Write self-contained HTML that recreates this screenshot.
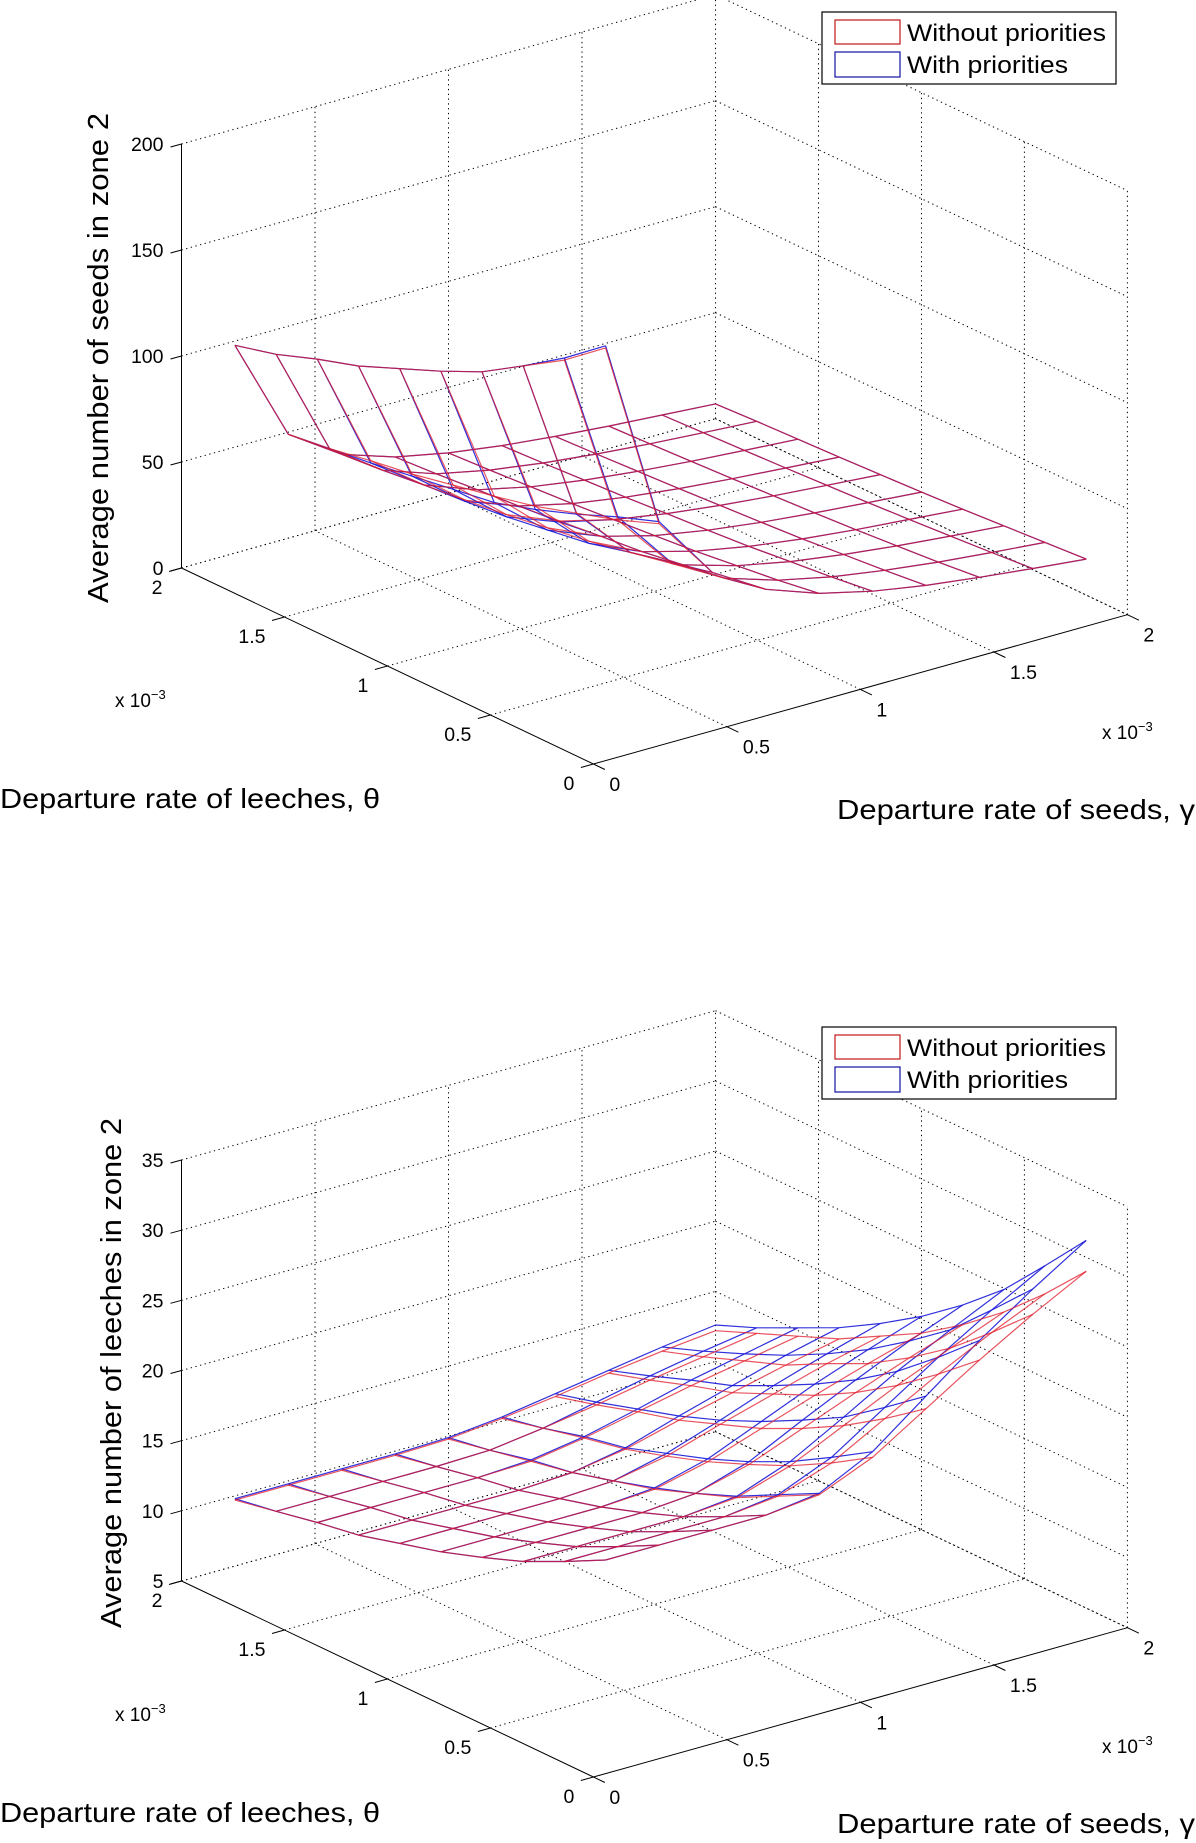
<!DOCTYPE html>
<html><head><meta charset="utf-8"><title>Zone 2 surfaces</title>
<style>
html,body{margin:0;padding:0;background:#fff;}
svg{display:block;font-family:"Liberation Sans",Arial,sans-serif;}
</style></head>
<body>
<svg id="fig" width="1196" height="1843" viewBox="0 0 1196 1843" xmlns="http://www.w3.org/2000/svg">
  <rect x="0" y="0" width="1196" height="1843" fill="#fff"/>
  <g id="chart1"></g>
  <g id="chart2"></g>

  <text x="0" y="808" font-size="28" textLength="380" lengthAdjust="spacingAndGlyphs">Departure rate of leeches, θ</text>
  <text x="837" y="819" font-size="28" textLength="358" lengthAdjust="spacingAndGlyphs">Departure rate of seeds, γ</text>
  <text transform="translate(108,358) rotate(-90)" text-anchor="middle" font-size="29" textLength="490" lengthAdjust="spacingAndGlyphs">Average number of seeds in zone 2</text>
  <text x="115" y="707" font-size="19">x 10<tspan dy="-8" font-size="13">−3</tspan></text>
  <text x="1102" y="739" font-size="19">x 10<tspan dy="-8" font-size="13">−3</tspan></text>
  <g>
    <rect x="822" y="12" width="294" height="72" fill="#fff" stroke="#000" stroke-width="1.2"/>
    <rect x="835" y="20" width="65" height="24" fill="none" stroke="#c01818" stroke-width="1.2"/>
    <rect x="835" y="52" width="65" height="25" fill="none" stroke="#1010a0" stroke-width="1.2"/>
    <text x="907" y="41" font-size="24" textLength="199" lengthAdjust="spacingAndGlyphs">Without priorities</text>
    <text x="907" y="73" font-size="24" textLength="161" lengthAdjust="spacingAndGlyphs">With priorities</text>
  </g>

  <text x="0" y="1822" font-size="28" textLength="380" lengthAdjust="spacingAndGlyphs">Departure rate of leeches, θ</text>
  <text x="837" y="1833" font-size="28" textLength="358" lengthAdjust="spacingAndGlyphs">Departure rate of seeds, γ</text>
  <text transform="translate(121,1373) rotate(-90)" text-anchor="middle" font-size="29" textLength="510" lengthAdjust="spacingAndGlyphs">Average number of leeches in zone 2</text>
  <text x="115" y="1721" font-size="19">x 10<tspan dy="-8" font-size="13">−3</tspan></text>
  <text x="1102" y="1753" font-size="19">x 10<tspan dy="-8" font-size="13">−3</tspan></text>
  <g>
    <rect x="822" y="1027" width="294" height="72" fill="#fff" stroke="#000" stroke-width="1.2"/>
    <rect x="835" y="1035" width="65" height="24" fill="none" stroke="#c01818" stroke-width="1.2"/>
    <rect x="835" y="1067" width="65" height="25" fill="none" stroke="#1010a0" stroke-width="1.2"/>
    <text x="907" y="1056" font-size="24" textLength="199" lengthAdjust="spacingAndGlyphs">Without priorities</text>
    <text x="907" y="1088" font-size="24" textLength="161" lengthAdjust="spacingAndGlyphs">With priorities</text>
  </g>
</svg>
<script>
const thetaValues = [0.2,0.4,0.6,0.8,1.0,1.2,1.4,1.6,1.8,2.0];
const gammaValues = [0.2,0.4,0.6,0.8,1.0,1.2,1.4,1.6,1.8,2.0];
const planeTicks = [0,0.5,1,1.5,2];
const planeTickLabels = ["0","0.5","1","1.5","2"];
const seedsZTicks = [0,50,100,150,200];
const leechesZTicks = [5,10,15,20,25,30,35];

const seedsWithout = [
 [180,90,60,45,36,30,25.7,22.5,19.6,17],
 [165,82.5,55,41,33,27.5,23.6,20.4,17.9,15.6],
 [153,76.5,51,38,30.6,25.5,21.8,18.8,16.4,14.2],
 [141,70.5,47,35,28.2,23.4,19.9,17.2,15,12.8],
 [132,66,44,33,26.3,21.8,18.5,15.9,13.7,11.6],
 [124,62,41,31,24.6,20.4,17.2,14.7,12.6,10.6],
 [116,58,38.6,28.8,22.9,18.9,15.9,13.5,11.5,9.6],
 [110,55,36.5,27.2,21.6,17.7,14.8,12.5,10.6,8.8],
 [103,51.5,34.2,25.5,20.2,16.5,13.7,11.5,9.7,8],
 [98,49,32.5,24.2,19.1,15.5,12.8,10.6,8.8,7]
];
const seedsWith = [
 [181,91,60,45,36,30,25.7,22.5,19.6,17],
 [166,84,55.5,41,33,27.5,23.6,20.4,17.9,15.6],
 [153,76,51,38,30.6,25.5,21.8,18.8,16.4,14.2],
 [141,69,46,35,28.2,23.4,19.9,17.2,15,12.8],
 [132,63,43,33,26.3,21.8,18.5,15.9,13.7,11.6],
 [124,60,40,30.5,24.6,20.4,17.2,14.7,12.6,10.6],
 [116,57,38,28.8,22.9,18.9,15.9,13.5,11.5,9.6],
 [110,54,36.5,27.2,21.6,17.7,14.8,12.5,10.6,8.8],
 [103,51.5,34.2,25.5,20.2,16.5,13.7,11.5,9.7,8],
 [98,49,32.5,24.2,19.1,15.5,12.8,10.6,8.8,7]
];

const leechesWithout = [
 [18,18,18,18,18.4,20,22.4,24.8,27,29],
 [16.5,16.5,16.5,16.5,16.9,18.2,20.3,22.4,24.3,26],
 [15.1,15.1,15.1,15.1,15.4,16.6,18.4,20.2,21.8,23.3],
 [14,14,14,14,14.3,15.3,16.8,18.3,19.7,21],
 [13,13,13,13,13.2,14.1,15.4,16.7,17.9,19],
 [12.2,12.2,12.2,12.2,12.4,13.1,14.3,15.4,16.5,17.4],
 [11.4,11.4,11.4,11.4,11.6,12.2,13.2,14.1,15,15.8],
 [10.9,10.9,10.9,10.9,11,11.6,12.4,13.2,13.9,14.6],
 [10.3,10.3,10.3,10.3,10.4,10.9,11.5,12.2,12.8,13.4],
 [9.7,9.7,9.7,9.7,9.8,10.2,10.7,11.3,11.8,12.2]
];
const leechesWith = [
 [18,18,18,18,18.5,20.4,23.3,26.2,28.8,31.2],
 [16.5,16.5,16.5,16.5,17,18.6,21.1,23.6,25.9,28],
 [15.1,15.1,15.1,15.1,15.5,16.9,19,21.2,23.1,24.9],
 [14,14,14,14,14.3,15.5,17.4,19.2,20.9,22.4],
 [13,13,13,13,13.3,14.3,15.9,17.5,18.9,20.2],
 [12.2,12.2,12.2,12.2,12.4,13.3,14.6,16,17.2,18.3],
 [11.4,11.4,11.4,11.4,11.6,12.3,13.5,14.6,15.7,16.6],
 [10.9,10.9,10.9,10.9,11.1,11.7,12.6,13.6,14.4,15.2],
 [10.3,10.3,10.3,10.3,10.4,10.9,11.7,12.5,13.2,13.8],
 [9.8,9.8,9.8,9.8,9.9,10.3,10.9,11.5,12.1,12.6]
];

const NS = "http://www.w3.org/2000/svg";
function mk(tag, attrs, parent){
  const e = document.createElementNS(NS, tag);
  for (const k in attrs) e.setAttribute(k, attrs[k]);
  parent.appendChild(e);
  return e;
}

function drawChart(g, cfg, zTicks, red, blue, prefix){
  const zmin = zTicks[0], zmax = zTicks[zTicks.length-1];
  function P(th, ga, z){
    return [cfg.fx + th/2*cfg.tvx + ga/2*cfg.gvx,
            cfg.fy + th/2*cfg.tvy + ga/2*cfg.gvy - (z-zmin)/(zmax-zmin)*cfg.zPx];
  }
  const dot = {stroke:"#000", "stroke-width":"1", "stroke-dasharray":"1.3 3.5", fill:"none"};
  function seg(a, b, style, name){
    const l = mk("line", Object.assign({x1:a[0].toFixed(1), y1:a[1].toFixed(1), x2:b[0].toFixed(1), y2:b[1].toFixed(1)}, style), g);
    
    
  }
  zTicks.forEach(z => {
    seg(P(2,0,z), P(2,2,z), dot, prefix+'grid-left-wall-z');
    seg(P(2,2,z), P(0,2,z), dot, prefix+'grid-right-wall-z');
  });
  planeTicks.forEach(v => {
    if (v > 0) seg(P(2,v,zmin), P(2,v,zmax), dot, prefix+'grid-left-wall-gamma');
    if (v < 2) seg(P(v,2,zmin), P(v,2,zmax), dot, prefix+'grid-right-wall-theta');
    if (v > 0) seg(P(v,0,zmin), P(v,2,zmin), dot, prefix+'grid-floor-theta');
    if (v > 0) seg(P(0,v,zmin), P(2,v,zmin), dot, prefix+'grid-floor-gamma');
  });
  const solid = {stroke:"#000", "stroke-width":"1", fill:"none"};
  seg(P(2,0,zmin), P(2,0,zmax), solid, prefix+'z-axis');
  seg(P(0,0,zmin), P(2,0,zmin), solid, prefix+'theta-axis');
  seg(P(0,0,zmin), P(0,2,zmin), solid, prefix+'gamma-axis');
  zTicks.forEach(z => {
    const p = P(2,0,z);
    seg([p[0]-11, p[1]+3], p, solid, prefix+'z-tick');
    const t = mk("text", {x:(p[0]-18).toFixed(1), y:(p[1]+7).toFixed(1), "text-anchor":"end", "font-size":"19.5"}, g);
    t.textContent = String(z);
    
    
  });
  planeTicks.forEach((v, i) => {
    const p = P(v,0,zmin);
    seg([p[0]-12.5, p[1]+3.5], p, solid, prefix+'theta-tick');
    const t = mk("text", {x:(p[0]-19).toFixed(1), y:(p[1]+26).toFixed(1), "text-anchor":"end", "font-size":"19.5"}, g);
    t.textContent = planeTickLabels[i];
    
    
    const q = P(0,v,zmin);
    seg(q, [q[0]+11.5, q[1]+5.5], solid, prefix+'gamma-tick');
    const u = mk("text", {x:(q[0]+16).toFixed(1), y:(q[1]+27).toFixed(1), "text-anchor":"start", "font-size":"19.5"}, g);
    u.textContent = planeTickLabels[i];
    
    
  });
  function mesh(data, color, name, op){
    const mg = mk("g", {stroke:color, "stroke-width":"1.2", fill:"none", "stroke-opacity":op, "stroke-linejoin":"round"}, g);
    
    
    for (let i = 0; i < thetaValues.length; i++){
      const pts = gammaValues.map((ga, j) => P(thetaValues[i], ga, data[i][j]).map(v => v.toFixed(1)).join(",")).join(" ");
      const pl = mk("polyline", {points:pts}, mg);
      
      
    }
    for (let j = 0; j < gammaValues.length; j++){
      const pts = thetaValues.map((th, i) => P(th, gammaValues[j], data[i][j]).map(v => v.toFixed(1)).join(",")).join(" ");
      const pl = mk("polyline", {points:pts}, mg);
      
      
    }
  }
  mesh(blue, "#1a1ad8", prefix+'mesh-with-priorities', "0.9");
  mesh(red, "#e01a2a", prefix+'mesh-without-priorities', "0.75");
}

drawChart(document.getElementById("chart1"),
  {fx:593.4, fy:764, tvx:-411.9, tvy:-196, gvx:534, gvy:-149.3, zPx:424},
  seedsZTicks, seedsWithout, seedsWith, 'seeds-');
drawChart(document.getElementById("chart2"),
  {fx:593.4, fy:1777, tvx:-411.9, tvy:-196, gvx:534, gvy:-149.3, zPx:421},
  leechesZTicks, leechesWithout, leechesWith, 'leeches-');
</script>
</body></html>
